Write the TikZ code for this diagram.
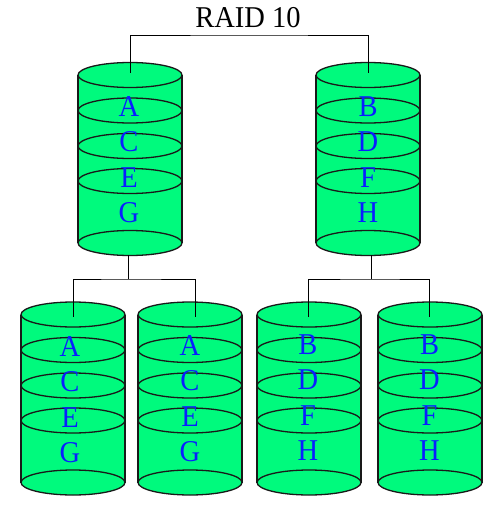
\documentclass[tikz,border=0pt]{standalone}
\usepackage{fontspec}
\setmainfont{Liberation Serif}
\definecolor{diskgreen}{RGB}{0,250,125}
\definecolor{letterblue}{RGB}{10,30,255}
\newcommand{\tallsize}[1]{\scalebox{1}[1.06]{\fontsize{28.5}{29}\selectfont #1}}
\newcommand{\diskdraw}[9]{%
  % #1 name, #2 cx, #3 top y, #4 label x, #5 label y, #6-#9 letters
  \fill[diskgreen] (#2-52,#3) rectangle (#2+52,#3+168);
  \draw[diskline] (#2-52,#3) -- (#2-52,#3+168) (#2+52,#3) -- (#2+52,#3+168);
  \foreach \dy in {168,106,71,35.5,0}{
    \draw[diskline,fill=diskgreen] (#2,#3+\dy) ellipse [x radius=52,y radius=12.5];
  }
  \node[disklabel] (#1a) at (#4,#5) {\tallsize{#6}};
  \node[disklabel] (#1b) at (#4,#5+35.5) {\tallsize{#7}};
  \node[disklabel] (#1c) at (#4,#5+71) {\tallsize{#8}};
  \node[disklabel] (#1d) at (#4,#5+106) {\tallsize{#9}};
}
\tikzset{
  diskline/.style={draw=black!90,line width=1.3pt},
  disklabel/.style={text=letterblue,inner sep=0pt,anchor=base},
  wire/.style={draw=black,line width=0.9pt,line join=miter},
}
\begin{document}
\begin{tikzpicture}[x=1pt,y=-1pt]
\useasboundingbox (0,0) rectangle (500,511);
\fill[white] (0,0) rectangle (500,511);
\diskdraw{t1}{130}{75}{129}{116}{A}{C}{E}{G}
\diskdraw{t2}{368}{75}{368}{116}{B}{D}{F}{H}
\diskdraw{m1}{73}{314.5}{70}{356}{A}{C}{E}{G}
\diskdraw{m2}{190}{314.5}{190}{355}{A}{C}{E}{G}
\diskdraw{m3}{309}{314.5}{308}{354}{B}{D}{F}{H}
\diskdraw{m4}{430}{314.5}{429.5}{354}{B}{D}{F}{H}
\node[inner sep=0pt,anchor=base] (title) at (248,28) {\tallsize{RAID 10}};
\coordinate (tap1) at (130,73);
\coordinate (tap2) at (368,73);
\coordinate (bus) at (249,35);
\draw[wire] (tap1) |- (bus) -| (tap2);
\coordinate (foot1) at (128,255);
\coordinate (join1) at (128,279);
\coordinate (tapm1) at (73,317);
\coordinate (tapm2) at (195,317);
\draw[wire] (foot1) -- (join1);
\draw[wire] (tapm1) |- (join1) -| (tapm2);
\coordinate (foot2) at (371,255);
\coordinate (join2) at (371,279);
\coordinate (tapm3) at (308,317);
\coordinate (tapm4) at (429,317);
\draw[wire] (foot2) -- (join2);
\draw[wire] (tapm3) |- (join2) -| (tapm4);
\end{tikzpicture}
\end{document}
